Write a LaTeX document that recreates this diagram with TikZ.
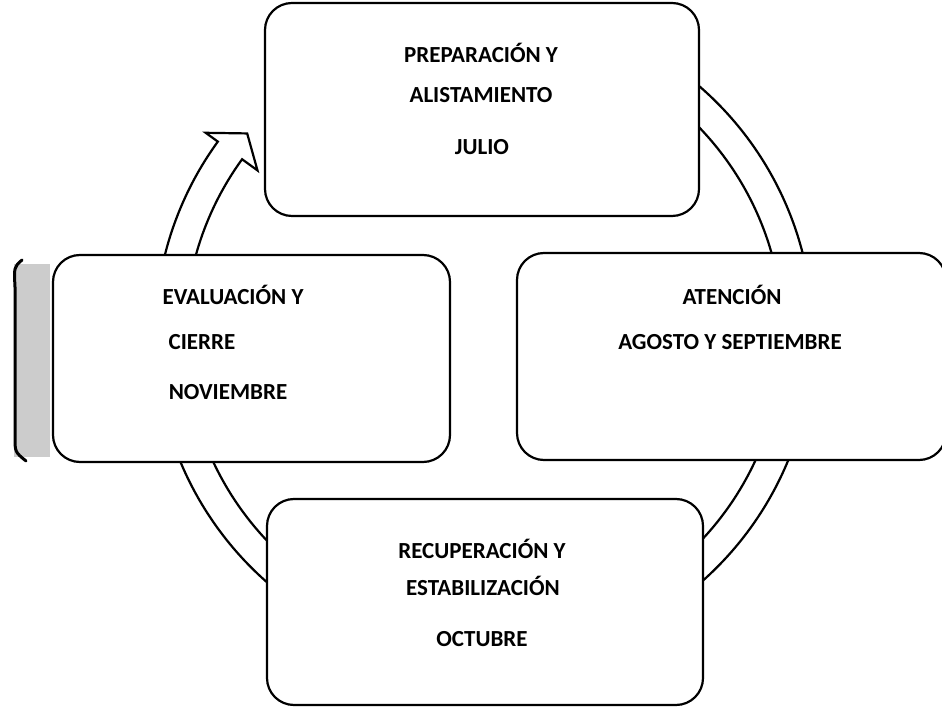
\documentclass[tikz,border=0pt]{standalone}
\usepackage{fontspec}
\setmainfont{Carlito}
\begin{document}
\begin{tikzpicture}[x=1pt,y=1pt,
  box/.style={draw=black, line width=2.2pt, fill=white, rounded corners=27pt, inner sep=0pt},
  lbl/.style={font=\fontsize{23}{26}\selectfont\bfseries, anchor=base, inner sep=0pt},
  arr/.style={draw=black, line width=2.2pt, fill=white, line join=miter}]
\useasboundingbox (0,0) rectangle (942,707);
\coordinate (C) at (484,372);
% circular arrows (drawn behind the boxes)
\begin{scope}[shift={(C)}]
  % left -> top (visible head)
  \draw[arr] (170:329pt) arc[start angle=170, end angle=144, radius=329pt] -- (144:344pt) -- (139.6:311pt) -- (144:280pt) -- (144:299pt) arc[start angle=144, end angle=170, radius=299pt] -- cycle;
  % top -> right
  \draw[arr] (52:329pt) arc[start angle=52, end angle=10, radius=329pt] -- (10:344pt) -- (5.6:311pt) -- (10:280pt) -- (10:299pt) arc[start angle=10, end angle=52, radius=299pt] -- cycle;
  % right -> bottom
  \draw[arr] (-20:329pt) arc[start angle=-20, end angle=-55, radius=329pt] -- (-55:344pt) -- (-59.4:311pt) -- (-55:280pt) -- (-55:299pt) arc[start angle=-55, end angle=-20, radius=299pt] -- cycle;
  % bottom -> left
  \draw[arr] (-125:329pt) arc[start angle=-125, end angle=-162, radius=329pt] -- (-162:344pt) -- (-166.4:311pt) -- (-162:280pt) -- (-162:299pt) arc[start angle=-162, end angle=-125, radius=299pt] -- cycle;
\end{scope}
% scan smudge on the left edge
\fill[gray!40] (14,250) rectangle (50,443);
\draw[line width=3pt, line cap=round] (22,447) .. controls (14,440) .. (15,420) -- (15,270) .. controls (15,255) .. (26,246);
% boxes
\node[box, minimum width=434pt, minimum height=213pt] (top) at (482,597.5) {};
\node[box, minimum width=429pt, minimum height=207pt] (right) at (731.5,350.5) {};
\node[box, minimum width=436pt, minimum height=206pt] (bottom) at (485,105) {};
\node[box, minimum width=397pt, minimum height=207pt] (left) at (251.5,348.5) {};
% texts
\node[lbl] (t1) at (481,644) {PREPARACIÓN Y};
\node[lbl] (t2) at (481,604) {ALISTAMIENTO};
\node[lbl] (t3) at (482,552) {JULIO};
\node[lbl] (r1) at (732,402) {ATENCIÓN};
\node[lbl] (r2) at (730,357) {AGOSTO Y SEPTIEMBRE};
\node[lbl] (l1) at (233,402) {EVALUACIÓN Y};
\node[lbl] (l2) at (202,357) {CIERRE};
\node[lbl] (l3) at (228,307) {NOVIEMBRE};
\node[lbl] (b1) at (482,149) {RECUPERACIÓN Y};
\node[lbl] (b2) at (483,112) {ESTABILIZACIÓN};
\node[lbl] (b3) at (482,61) {OCTUBRE};
\end{tikzpicture}
\end{document}
